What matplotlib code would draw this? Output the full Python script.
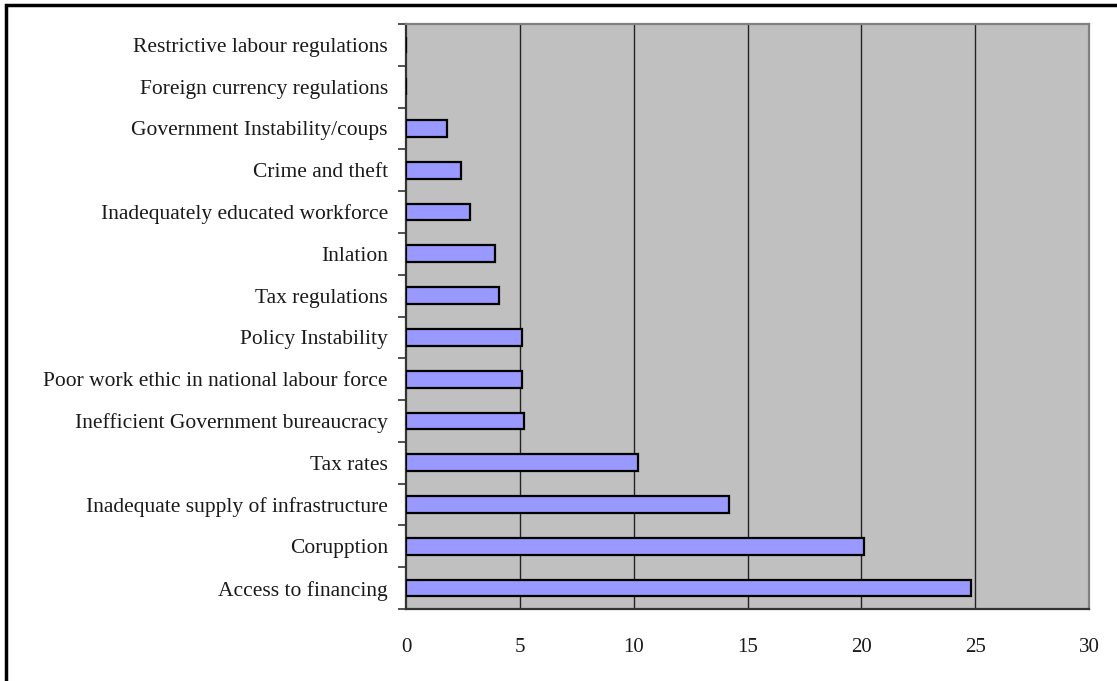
import matplotlib
matplotlib.use("Agg")
import matplotlib.pyplot as plt
from matplotlib.patches import Rectangle

categories = [
    "Access to financing",
    "Corupption",
    "Inadequate supply of infrastructure",
    "Tax rates",
    "Inefficient Government bureaucracy",
    "Poor work ethic in national labour force",
    "Policy Instability",
    "Tax regulations",
    "Inlation",
    "Inadequately educated workforce",
    "Crime and theft",
    "Government Instability/coups",
    "Foreign currency regulations",
    "Restrictive labour regulations",
]
values = [24.8, 20.1, 14.2, 10.2, 5.2, 5.1, 5.1, 4.1, 3.9, 2.8, 2.4, 1.8, 0.0, 0.0]
x_ticks = [0, 5, 10, 15, 20, 25, 30]

plt.rcParams["font.family"] = ["Liberation Serif", "DejaVu Serif"]

W, H = 1117, 681
fig = plt.figure(figsize=(W / 100, H / 100), dpi=100)
fig.patch.set_facecolor("white")

left, right, top, bottom = 406, 1089, 24, 609
ax = fig.add_axes([left / W, 1 - bottom / H, (right - left) / W, (bottom - top) / H])
ax.set_facecolor("#C0C0C0")

ypos = list(range(len(categories)))
ax.barh(ypos, values, height=0.4, color="#9999FF", edgecolor="black",
        linewidth=1.6, zorder=3)

ax.set_xlim(0, 30)
ax.set_ylim(-0.5, len(categories) - 0.5)
ax.set_xticks(x_ticks)
ax.set_xticklabels([str(t) for t in x_ticks], fontsize=15, color="#1a1a1a")
ax.set_yticks(ypos)
ax.set_yticklabels(categories, fontsize=15.5, color="#1a1a1a")
ax.tick_params(axis="y", length=0, pad=13)
ax.tick_params(axis="x", length=0, pad=21)

# tick marks between categories and at gridline positions
ax.set_yticks([i - 0.5 for i in range(len(categories) + 1)], minor=True)
ax.tick_params(axis="y", which="minor", length=6, width=1.2, color="#333333")
ax.set_xticks(x_ticks, minor=True)
ax.tick_params(axis="x", which="minor", length=6, width=1.2, color="#333333")

for t in x_ticks[1:-1]:
    ax.axvline(t, color="#222222", linewidth=1.0, zorder=2)

ax.spines["left"].set_color("#333333")
ax.spines["left"].set_linewidth(1.6)
ax.spines["bottom"].set_color("#333333")
ax.spines["bottom"].set_linewidth(1.6)
ax.spines["top"].set_color("#808080")
ax.spines["top"].set_linewidth(1.6)
ax.spines["right"].set_color("#808080")
ax.spines["right"].set_linewidth(1.6)

# outer frame of the chart area
fig.patches.append(Rectangle((6 / W, -0.05), 1.1, 1 - 5 / H + 0.05,
                             transform=fig.transFigure, fill=False,
                             edgecolor="black", linewidth=2.5))

fig.savefig("out.png", dpi=100)
